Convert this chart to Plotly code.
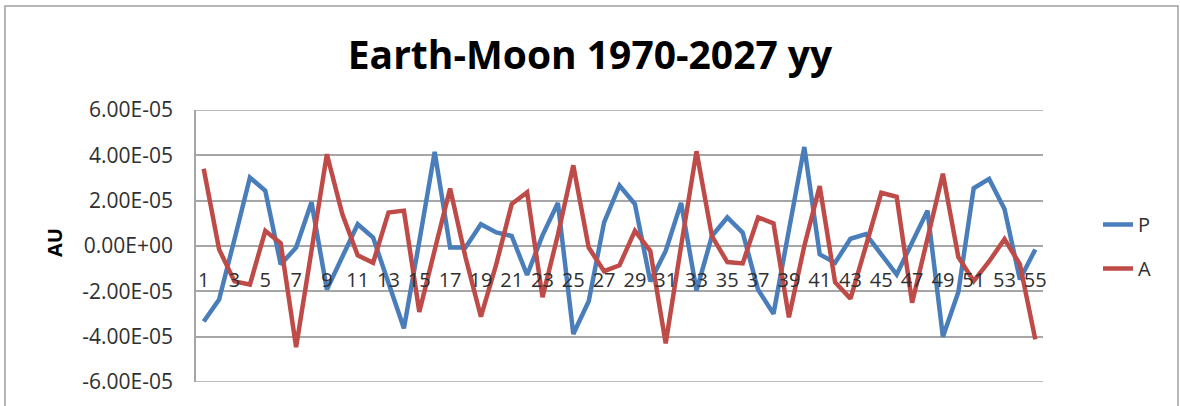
import plotly.graph_objects as go

# ---- data ----
idx = list(range(1, 56))
P = [-3.33, -2.36, 0.30, 3.02, 2.44, -0.81, -0.07, 1.93, -1.92, -0.47,
     0.96, 0.37, -1.63, -3.63, 0.20, 4.15, -0.07, -0.07, 0.96, 0.60,
     0.44, -1.28, 0.47, 1.90, -3.88, -2.44, 1.04, 2.67, 1.85, -1.56,
     -0.22, 1.90, -1.97, 0.44, 1.26, 0.59, -1.93, -2.99, 0.70, 4.37,
     -0.37, -0.74, 0.32, 0.52, -0.37, -1.26, 0.15, 1.56, -4.00, -2.04,
     2.55, 2.96, 1.63, -1.48, -0.15]
A = [3.41, -0.15, -1.56, -1.70, 0.67, 0.12, -4.46, -0.10, 4.05, 1.41,
     -0.41, -0.74, 1.48, 1.56, -2.91, -0.18, 2.54, -0.50, -3.12, -0.80,
     1.85, 2.37, -2.26, 0.50, 3.56, -0.07, -1.11, -0.85, 0.67, -0.22,
     -4.30, 0.00, 4.18, 0.44, -0.71, -0.77, 1.26, 1.00, -3.15, 0.00,
     2.64, -1.60, -2.32, 0.00, 2.35, 2.17, -2.50, 0.33, 3.19, -0.48,
     -1.55, -0.68, 0.30, -0.81, -4.12]
P = [v * 1e-5 for v in P]
A = [v * 1e-5 for v in A]

y_tickvals = [6e-5, 4e-5, 2e-5, 0.0, -2e-5, -4e-5, -6e-5]
y_ticktext = ["6.00E-05", "4.00E-05", "2.00E-05", "0.00E+00",
              "-2.00E-05", "-4.00E-05", "-6.00E-05"]
x_tickvals = list(range(1, 56, 2))
x_ticktext = [str(v) for v in x_tickvals]

title_text = "Earth-Moon 1970-2027 yy"

# ---- figure ----
W, H = 1180, 406
L, R, T, B = 196, 1043, 110, 382
pw, ph = R - L, B - T

def px(x):
    return (x - L) / pw

def py(y):
    return (B - y) / ph

FONT = "Open Sans"
TXT = "#303030"
GRID = "#a6a6a6"

fig = go.Figure()
fig.add_trace(go.Scatter(x=idx, y=P, name="P", mode="lines",
                         line=dict(color="#4a7ebb", width=4.5),
                         legendgroup="p"))
fig.add_trace(go.Scatter(x=idx, y=A, name="A", mode="lines",
                         line=dict(color="#be4b48", width=4.5),
                         legendgroup="a"))

fig.update_layout(
    width=W, height=H,
    margin=dict(l=L, r=W - R, t=T, b=H - B, pad=0, autoexpand=False),
    paper_bgcolor="white", plot_bgcolor="white",
    font=dict(family=FONT, size=20, color=TXT),
    title=dict(text=title_text, x=0.5, xanchor="center", xref="container",
               y=1 - 55 / H, yanchor="middle", yref="container",
               font=dict(family=FONT, size=39, color="#000000", weight="bold")),
    showlegend=True,
    legend=dict(x=px(1098), xanchor="left", y=py(246.5), yanchor="middle",
                font=dict(family=FONT, size=20, color=TXT),
                tracegroupgap=15, bgcolor="rgba(0,0,0,0)"),
)

fig.update_xaxes(
    range=[0.5, 55.5], showgrid=False, zeroline=False,
    anchor="free", position=0.5, showline=False,
    tickmode="array", tickvals=x_tickvals, ticktext=x_ticktext,
    ticks="", ticklabelstandoff=20,
    tickfont=dict(family=FONT, size=20, color=TXT),
)
fig.update_yaxes(
    range=[y_tickvals[-1], y_tickvals[0]], showgrid=True, gridcolor=GRID,
    gridwidth=1.5,
    zeroline=True, zerolinecolor=GRID, zerolinewidth=1.5,
    showline=True, linecolor=GRID, linewidth=1.5,
    tickmode="array", tickvals=y_tickvals, ticktext=y_ticktext,
    ticks="", ticklabelstandoff=17,
    tickfont=dict(family=FONT, size=21, color=TXT),
)

# edge gridlines (top and bottom of the value range)
for yv in (y_tickvals[0], y_tickvals[-1]):
    fig.add_shape(type="line", xref="paper", yref="y", x0=0, x1=1,
                  y0=yv, y1=yv, line=dict(color=GRID, width=1.5),
                  layer="below")

fig.add_annotation(text="<b>AU</b>", xref="paper", yref="paper",
                   x=px(54), y=py(243), textangle=-90, showarrow=False,
                   xanchor="center", yanchor="middle",
                   font=dict(family=FONT, size=20, color="#000000"))

fig.add_shape(type="rect", xref="paper", yref="paper",
              x0=px(5), x1=px(1178), y0=py(412), y1=py(6),
              line=dict(color="#a0a0a0", width=1.5), layer="below")

fig.write_html("out.html",
               config={"displayModeBar": False},
               post_script="document.body.style.margin='0';")
